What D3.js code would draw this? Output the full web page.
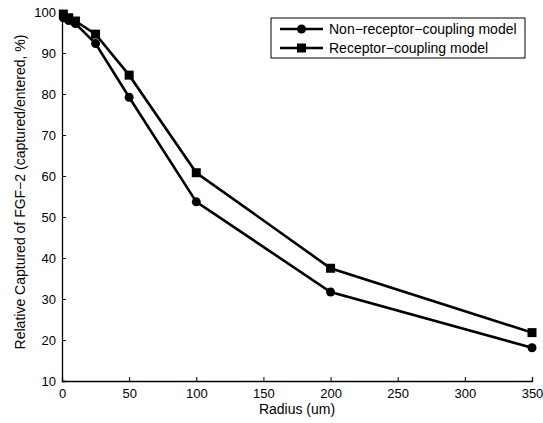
<!DOCTYPE html>
<html>
<head>
<meta charset="utf-8">
<script src="https://cdn.jsdelivr.net/npm/d3@7"></script>
<style>
  body { margin: 0; background: #fff; }
  text { font-family: "Liberation Sans", Arial, sans-serif; }
</style>
</head>
<body>
<div id="viz"></div>
<script>
// data
var radius = [1, 5, 10, 25, 50, 100, 200, 350];
var nonReceptor = [98.6, 97.9, 97.2, 92.3, 79.2, 53.7, 31.7, 18.1];
var receptor = [99.5, 98.6, 97.8, 94.6, 84.6, 60.8, 37.5, 21.8];
var seriesNames = ["Non\u2212receptor\u2212coupling model", "Receptor\u2212coupling model"];
var xTicks = [0, 50, 100, 150, 200, 250, 300, 350];
var yTicks = [10, 20, 30, 40, 50, 60, 70, 80, 90, 100];

var W = 543, H = 423;
var margin = { top: 12, right: 11, bottom: 42, left: 62 },
  width = W - margin.left - margin.right,
  height = H - margin.top - margin.bottom;

var svg = d3.select("#viz").append("svg")
  .attr("width", W)
  .attr("height", H)
  .append("g")
  .attr("transform", "translate(" + margin.left + "," + margin.top + ")");

var xScale = d3.scaleLinear().domain([0, 350]).range([0, width]);
var yScale = d3.scaleLinear().domain([10, 100]).range([height, 0]);

// x axis, ticks pointing inward
var xAxis = svg.append("g")
  .attr("transform", "translate(0," + height + ")")
  .call(d3.axisBottom(xScale).tickValues(xTicks).tickSize(-4).tickPadding(8));
// y axis
var yAxis = svg.append("g")
  .call(d3.axisLeft(yScale).tickValues(yTicks).tickSize(-4).tickPadding(6));

[xAxis, yAxis].forEach(function (a) {
  a.select(".domain").attr("stroke", "#000").attr("stroke-width", 1.3);
  a.selectAll(".tick line").attr("stroke", "#000").attr("stroke-width", 1);
  a.selectAll(".tick text").attr("fill", "#000").style("font-size", "13px");
});

svg.append("text")
  .attr("x", width / 2)
  .attr("y", height + 33)
  .style("text-anchor", "middle")
  .style("font-size", "14px")
  .text("Radius (um)");

svg.append("text")
  .attr("transform", "rotate(-90)")
  .attr("x", -180)
  .attr("y", -37)
  .style("text-anchor", "middle")
  .style("font-size", "14px")
  .text("Relative Captured of FGF\u22122 (captured/entered, %)");

var line = d3.line()
  .x(function (d) { return xScale(d[0]); })
  .y(function (d) { return yScale(d[1]); });

var series = [nonReceptor, receptor].map(function (vals) {
  return radius.map(function (r, i) { return [r, vals[i]]; });
});

series.forEach(function (pts, k) {
  svg.append("path")
    .datum(pts)
    .attr("fill", "none")
    .attr("stroke", "#000")
    .attr("stroke-width", 2.6)
    .attr("d", line);
  if (k == 0) {
    svg.selectAll(".c" + k).data(pts).enter().append("circle")
      .attr("cx", function (d) { return xScale(d[0]); })
      .attr("cy", function (d) { return yScale(d[1]); })
      .attr("r", 4.5)
      .attr("fill", "#000");
  } else {
    svg.selectAll(".s" + k).data(pts).enter().append("rect")
      .attr("x", function (d) { return xScale(d[0]) - 4.5; })
      .attr("y", function (d) { return yScale(d[1]) - 4.5; })
      .attr("width", 9)
      .attr("height", 9)
      .attr("fill", "#000");
  }
});

// legend
var lg = svg.append("g").attr("transform", "translate(" + (271 - margin.left) + "," + (18 - margin.top) + ")");
lg.append("rect")
  .attr("width", 254).attr("height", 40)
  .attr("fill", "#fff").attr("stroke", "#000").attr("stroke-width", 1);
seriesNames.forEach(function (name, i) {
  var yy = 11 + i * 19;
  lg.append("line")
    .attr("x1", 9).attr("x2", 52).attr("y1", yy).attr("y2", yy)
    .attr("stroke", "#000").attr("stroke-width", 2.6);
  if (i == 0) {
    lg.append("circle").attr("cx", 30.5).attr("cy", yy).attr("r", 4.5).attr("fill", "#000");
  } else {
    lg.append("rect").attr("x", 26).attr("y", yy - 4.5).attr("width", 9).attr("height", 9).attr("fill", "#000");
  }
  lg.append("text")
    .attr("x", 58).attr("y", yy).attr("dy", ".35em")
    .style("font-size", "14px")
    .text(name);
});
</script>
</body>
</html>
